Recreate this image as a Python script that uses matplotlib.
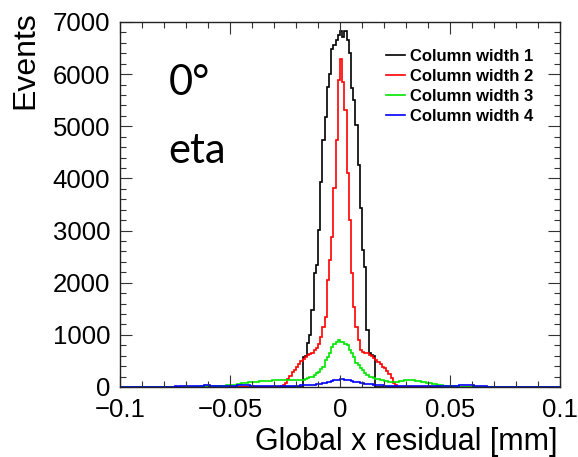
import numpy as np
import matplotlib
matplotlib.use("Agg")
import matplotlib.pyplot as plt
from matplotlib.ticker import MultipleLocator

# histogram binning: 200 bins of 0.001 mm between -0.1 and 0.1
x_min = -0.1
x_max = 0.1
n_bins = 200

labels = ["Column width 1", "Column width 2", "Column width 3", "Column width 4"]
colors = ["#000000", "#ff0000", "#00e600", "#0000ff"]

# bin contents; *_start is the bin offset from x = 0
black_start = -17
black = [580, 600, 850, 1000, 1480, 2190, 2340, 3010, 3930, 4740,
         5180, 5750, 6000, 6480, 6560, 6650, 6750, 6830, 6720, 6830,
         6650, 6400, 5730, 5500, 5020, 4260, 3430, 2630, 2300, 1100,
         650, 620, 600]

red_start = -27
red = [10, 30, 80, 150, 220, 280, 330, 390, 450, 500,
       540, 580, 610, 630, 660, 700, 740, 830, 960, 1150,
       1340, 2050, 2430, 2880, 3820, 4740, 5890, 6290, 5850, 5310,
       4100, 3200, 2190, 1530, 1150, 900, 710, 680, 660, 650,
       620, 590, 560, 520, 480, 440, 390, 360, 300, 240,
       170, 80, 30, 5]

green_start = -65
green = [5, 8, 10, 12, 15, 15, 18, 20, 20, 22,
         25, 25, 28, 30, 30, 35, 40, 45, 55, 65,
         70, 80, 85, 90, 95, 100, 100, 105, 110, 110,
         115, 115, 120, 120, 125, 125, 130, 130, 135, 135,
         135, 140, 135, 130, 125, 125, 125, 130, 135, 150,
         170, 185, 200, 230, 260, 290, 340, 385, 520, 580,
         650, 770, 820, 870, 900, 860, 870, 830, 800, 710,
         650, 580, 460, 420, 365, 320, 270, 230, 200, 185,
         170, 160, 150, 140, 130, 120, 110, 100, 100, 100,
         100, 105, 110, 120, 130, 135, 130, 135, 130, 120,
         115, 110, 100, 90, 85, 75, 70, 60, 55, 45,
         35, 30, 25, 20, 18, 15, 12, 10, 8, 5]

blue_start = -100
blue = [0, 2, 0, 3, 2, 0, 4, 2, 3, 5,
        3, 5, 4, 6, 5, 4, 7, 6, 5, 8,
        6, 8, 7, 9, 8, 10, 9, 11, 10, 12,
        11, 13, 12, 15, 14, 18, 22, 28, 35, 38,
        32, 25, 20, 18, 20, 22, 20, 24, 22, 25,
        24, 26, 28, 30, 35, 38, 36, 34, 30, 28,
        27, 26, 25, 26, 24, 25, 23, 24, 22, 23,
        22, 23, 21, 22, 23, 24, 22, 23, 24, 25,
        25, 28, 30, 30, 32, 35, 38, 40, 45, 50,
        60, 65, 75, 85, 95, 105, 115, 125, 135, 140,
        150, 145, 140, 135, 125, 115, 105, 100, 90, 80,
        75, 65, 60, 55, 50, 45, 40, 35, 32, 30,
        28, 27, 26, 25, 24, 22, 23, 21, 22, 20,
        21, 19, 20, 18, 19, 20, 22, 21, 20, 19,
        18, 17, 16, 15, 16, 15, 14, 15, 16, 18,
        20, 22, 25, 28, 30, 32, 35, 38, 36, 33,
        30, 26, 22, 18, 15, 12, 10, 9, 8, 7,
        8, 6, 7, 5, 6, 5, 4, 5, 4, 3,
        4, 3, 2, 3, 2, 1, 2, 1, 0, 1,
        0, 1, 0, 0, 1, 0, 0, 0, 0, 0]

xtick_vals = [-0.1, -0.05, 0, 0.05, 0.1]
xtick_labels = ["\u22120.1", "\u22120.05", "0", "0.05", "0.1"]
ytick_vals = [0, 1000, 2000, 3000, 4000, 5000, 6000, 7000]


def full_hist(start, vals):
    counts = np.zeros(n_bins)
    i0 = start + n_bins // 2
    counts[i0:i0 + len(vals)] = vals
    return counts


edges = np.linspace(x_min, x_max, n_bins + 1)
series = [(black_start, black), (red_start, red), (green_start, green), (blue_start, blue)]

plt.rcParams["font.family"] = ["Liberation Sans", "DejaVu Sans"]

fig = plt.figure(figsize=(5.78, 4.57), dpi=100)
ax = fig.add_axes([0.2076, 0.1532, 0.7612, 0.7987])

for (start, vals), lab, col in zip(series, labels, colors):
    ax.stairs(full_hist(start, vals), edges, color=col, lw=1.2, label=lab)

ax.set_xlim(x_min, x_max)
ax.set_ylim(0, 7000)
ax.set_xticks(xtick_vals)
ax.set_xticklabels(xtick_labels)
ax.set_yticks(ytick_vals)
ax.xaxis.set_minor_locator(MultipleLocator(0.01))
ax.yaxis.set_minor_locator(MultipleLocator(200))
ax.tick_params(which="both", direction="in", top=True, right=True, width=0.8, color="#333333")
ax.tick_params(which="major", length=8.5, labelsize=18.5)
ax.tick_params(which="minor", length=4.3)
ax.tick_params(axis="x", pad=8)
ax.tick_params(axis="y", pad=7)
for sp in ax.spines.values():
    sp.set_linewidth(1.0)
    sp.set_color("#222222")

ax.set_xlabel("Global x residual [mm]", fontsize=22, loc="right")
ax.xaxis.set_label_coords(0.995, -0.11)
ax.set_ylabel("Events", fontsize=23, loc="top")
ax.yaxis.set_label_coords(-0.18, 1.03)

ax.legend(loc="upper left", bbox_to_anchor=(0.59, 0.945), frameon=False,
          prop={"weight": "bold", "size": 12}, handlelength=1.1,
          handletextpad=0.3, labelspacing=0.3, borderaxespad=0)

ax.text(0.11, 0.80, "0\u00b0", transform=ax.transAxes, fontsize=30, family="Lato")
ax.text(0.11, 0.615, "eta", transform=ax.transAxes, fontsize=30, family="Lato")

fig.savefig("out.png", dpi=100)
